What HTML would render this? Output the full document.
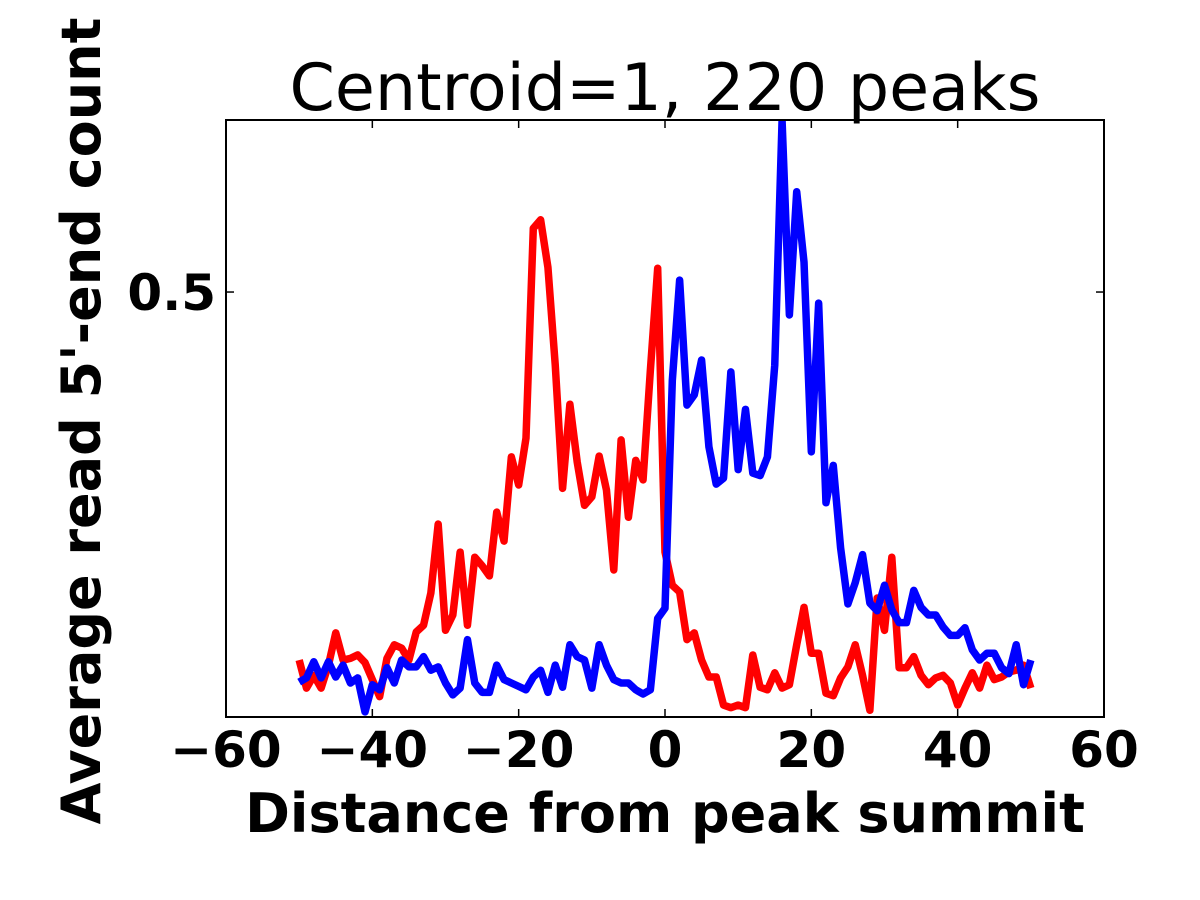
<!DOCTYPE html>
<html><head><meta charset="utf-8"><style>
body{margin:0;background:#fff}
svg{display:block;font-family:"DejaVu Sans","Liberation Sans",sans-serif}
</style></head><body>
<svg id="chart" width="1200" height="900">
<defs><clipPath id="clip"><rect x="226" y="120" width="878" height="597"/></clipPath></defs>
<text x="665" y="110" font-size="65" text-anchor="middle">Centroid=1, 220 peaks</text>
<g id="ticks"></g>
<g id="lines" clip-path="url(#clip)"></g>
<rect x="226" y="120" width="878" height="597" fill="none" stroke="#000" stroke-width="2"/>
<text x="665" y="832" font-size="54" font-weight="bold" text-anchor="middle">Distance from peak summit</text>
<text transform="translate(100,421) rotate(-90)" font-size="54" font-weight="bold" text-anchor="middle">Average read 5'-end count</text>
</svg>
<script>
const xTicks=[-60,-40,-20,0,20,40,60];
const xTickLabels=["\u221260","\u221240","\u221220","0","20","40","60"];
const yTicks=[0.5];
const yTickLabels=["0.5"];
const red=[.067,.034,.049,.034,.061,.099,.067,.069,.073,.064,.044,.024,.069,.085,.081,.067,.100,.108,.146,.227,.102,.120,.194,.108,.188,.178,.166,.241,.207,.306,.273,.328,.575,.585,.529,.414,.269,.368,.300,.249,.259,.307,.267,.173,.326,.235,.302,.279,.408,.528,.194,.155,.147,.091,.099,.067,.047,.047,.014,.011,.014,.011,.073,.035,.032,.052,.034,.038,.085,.129,.075,.075,.028,.025,.046,.059,.085,.049,.008,.140,.102,.188,.058,.058,.071,.049,.038,.046,.049,.040,.014,.034,.052,.034,.061,.044,.047,.053,.055,.061,.034];
const blue=[.041,.046,.065,.046,.065,.047,.061,.040,.046,.006,.038,.032,.058,.040,.067,.059,.059,.071,.055,.059,.040,.026,.034,.091,.040,.029,.029,.061,.044,.040,.036,.032,.047,.055,.029,.061,.035,.085,.071,.067,.034,.085,.061,.044,.040,.040,.032,.027,.032,.116,.128,.396,.514,.367,.379,.420,.318,.274,.281,.406,.291,.362,.287,.284,.306,.414,.702,.473,.618,.535,.312,.487,.252,.296,.199,.133,.158,.191,.134,.125,.155,.126,.111,.111,.149,.129,.120,.120,.106,.096,.096,.105,.079,.067,.075,.075,.058,.051,.085,.038,.067];
const xMin=-60,xMax=60,yMin=0,yMax=0.7024;
const L=226,R=1104,T=120,B=717;
const sx=v=>L+(v-xMin)/(xMax-xMin)*(R-L);
const sy=v=>B-(v-yMin)/(yMax-yMin)*(B-T);
const NS="http://www.w3.org/2000/svg";
const tg=document.getElementById('ticks');
function mk(tag,attrs,parent){const e=document.createElementNS(NS,tag);for(const k in attrs)e.setAttribute(k,attrs[k]);parent.appendChild(e);return e;}
xTicks.forEach((t,i)=>{
  const x=sx(t);
  const a=mk('line',{x1:x,x2:x,y1:B,y2:B-8,stroke:'#000','stroke-width':1.5},tg);
  
  
  const b=mk('line',{x1:x,x2:x,y1:T,y2:T+8,stroke:'#000','stroke-width':1.5},tg);
  
  
  const l=mk('text',{x:x,y:767,'font-size':50,'font-weight':'bold','text-anchor':'middle'},tg);
  l.textContent=xTickLabels[i];
  
  
});
yTicks.forEach((t,i)=>{
  const y=sy(t);
  const a=mk('line',{x1:L,x2:L+8,y1:y,y2:y,stroke:'#000','stroke-width':1.5},tg);
  
  
  const b=mk('line',{x1:R,x2:R-8,y1:y,y2:y,stroke:'#000','stroke-width':1.5},tg);
  
  
  const l=mk('text',{x:L-10,y:y+18,'font-size':50,'font-weight':'bold','text-anchor':'end'},tg);
  l.textContent=yTickLabels[i];
  
  
});
const lg=document.getElementById('lines');
function draw(data,color,name){
  const d=data.map((v,i)=>(i?'L':'M')+sx(i-50).toFixed(2)+','+sy(v).toFixed(2)).join(' ');
  const p=mk('path',{d:d,fill:'none',stroke:color,'stroke-width':7.5,'stroke-linejoin':'round'},lg);
  
  
}
draw(red,'#ff0000','red-series-line');
draw(blue,'#0000ff','blue-series-line');
</script>
</body></html>
